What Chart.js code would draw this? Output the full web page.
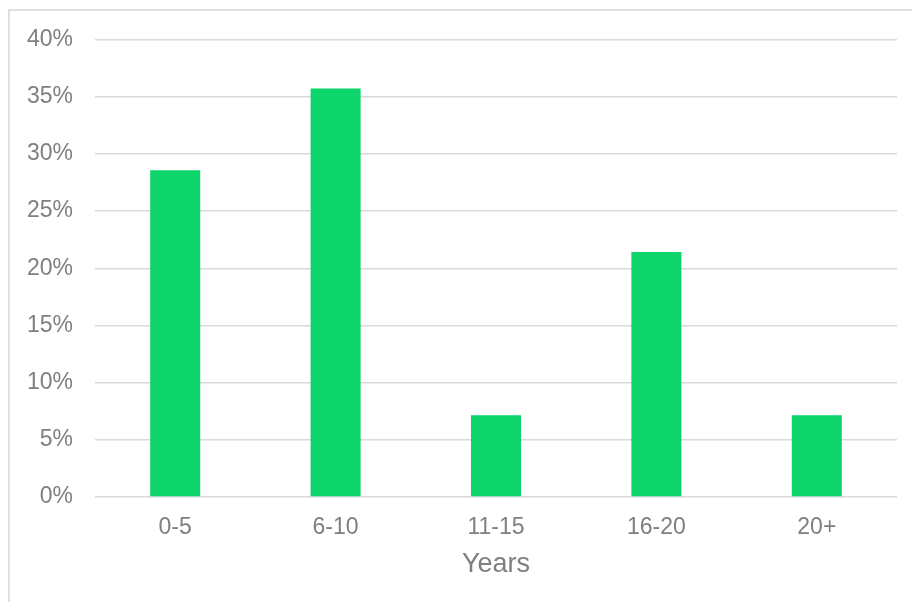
<!DOCTYPE html>
<html>
<head>
<meta charset="utf-8">
<script src="https://cdn.jsdelivr.net/npm/chart.js@4"></script>
<style>
    html, body { margin: 0; padding: 0; background: #ffffff; }
    #wrap { position: relative; width: 912px; height: 602px; overflow: hidden; }
    #frame {
        position: absolute; left: 8px; top: 9px; width: 920px; height: 620px;
        border: 2px solid #e0e0e0; box-sizing: border-box; pointer-events: none;
    }
    canvas { position: absolute; left: 0; top: 0; }
</style>
</head>
<body>
<div id="wrap">
    <canvas id="tenureChart" width="912" height="602"></canvas>
    <div id="frame"></div>
</div>
<script>
// Share of people by years of tenure
const categories = ['0-5', '6-10', '11-15', '16-20', '20+'];
const shares = [28.57, 35.71, 7.14, 21.43, 7.14];
const yTicks = [0, 5, 10, 15, 20, 25, 30, 35, 40];

const textColor = '#7f7f7f';
const gridColor = '#d9d9d9';
const fontFamily = '"Liberation Sans", Arial, sans-serif';

document.addEventListener('DOMContentLoaded', function() {
    const ctx = document.getElementById('tenureChart');
    new Chart(ctx, {
        type: 'bar',
        data: {
            labels: categories,
            datasets: [{
                label: 'Share',
                data: shares,
                backgroundColor: '#0dd46b',
                borderWidth: 0,
                barPercentage: 0.312,
                categoryPercentage: 1
            }]
        },
        options: {
            responsive: false,
            animation: false,
            devicePixelRatio: 1,
            layout: {
                padding: { left: 0, right: 15, top: 39.5, bottom: 0 }
            },
            plugins: {
                legend: { display: false },
                tooltip: { enabled: false }
            },
            scales: {
                y: {
                    min: yTicks[0],
                    max: yTicks[yTicks.length - 1],
                    afterBuildTicks: function(scale) {
                        scale.ticks = yTicks.map(v => ({ value: v }));
                    },
                    afterFit: function(scale) {
                        scale.width = 95;
                    },
                    ticks: {
                        color: textColor,
                        padding: 22,
                        font: { family: fontFamily, size: 23 },
                        callback: function(value) { return value + '%'; }
                    },
                    grid: {
                        color: gridColor,
                        lineWidth: 1.5,
                        drawTicks: false
                    },
                    border: { display: false }
                },
                x: {
                    afterFit: function(scale) {
                        scale.height = 105;
                    },
                    ticks: {
                        color: textColor,
                        padding: 17,
                        font: { family: fontFamily, size: 23 }
                    },
                    grid: { display: false, drawTicks: false },
                    border: { display: false },
                    title: {
                        display: true,
                        text: 'Years',
                        color: textColor,
                        font: { family: fontFamily, size: 27 },
                        padding: { top: 4, bottom: 21 }
                    }
                }
            }
        }
    });
});
</script>
</body>
</html>
